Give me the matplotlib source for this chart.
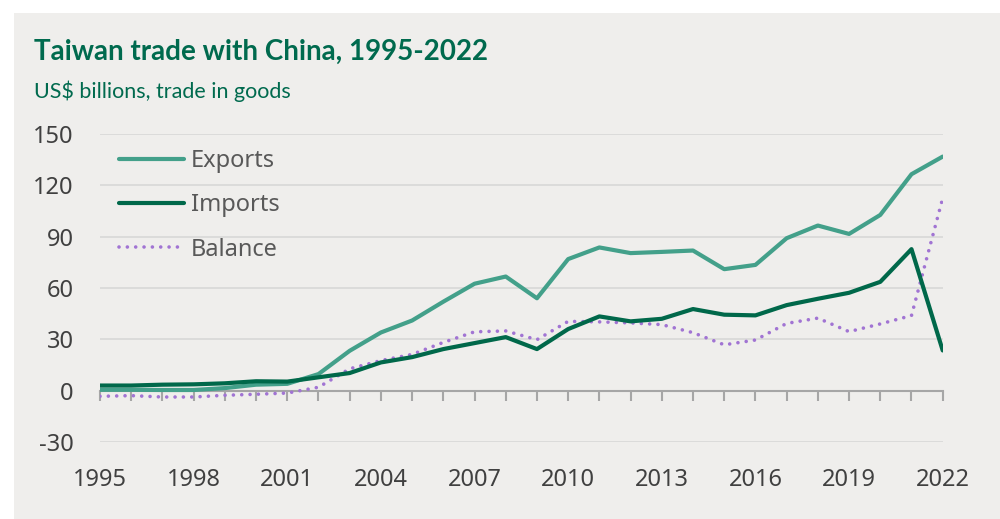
import matplotlib
matplotlib.use('Agg')
import matplotlib.pyplot as plt
from matplotlib.patches import Rectangle

# data (US$ billions)
years = list(range(1995, 2023))
exports = [0.5, 0.5, 0.4, 0.4, 1.5, 3.5, 4.0, 9.7, 23.3, 34.0, 41.0, 52.0, 62.5, 66.7,
           54.0, 76.9, 83.7, 80.4, 81.1, 81.9, 71.0, 73.5, 89.1, 96.5, 91.6, 102.7, 126.5, 136.8]
imports = [3.0, 3.0, 3.5, 3.7, 4.3, 5.5, 5.3, 7.8, 10.3, 16.5, 19.6, 24.3, 27.8, 31.3,
           24.3, 36.0, 43.4, 40.5, 42.0, 47.7, 44.4, 44.0, 50.0, 53.7, 57.2, 63.6, 82.7, 23.5]
balance = [-3.3, -2.9, -3.7, -3.7, -2.7, -2.1, -1.4, 2.0, 12.8, 17.6, 21.2, 28.2, 34.4, 34.9,
           29.8, 40.5, 40.2, 39.6, 38.6, 33.9, 26.8, 29.6, 39.3, 42.4, 34.5, 39.0, 43.9, 112.5]
ytick_vals = [-30, 0, 30, 60, 90, 120, 150]
xtick_years = list(range(1995, 2023, 3))

plt.rcParams['font.family'] = ['Noto Sans', 'DejaVu Sans']

bg = '#efeeec'
green_title = '#006a4e'
c_exp = '#43a08a'
c_imp = '#00684a'
c_bal = '#a174d3'
txt = '#404040'

fig = plt.figure(figsize=(10, 5.19), dpi=100)
fig.patch.set_facecolor('white')
fig.patches.append(Rectangle((0.014, 0), 1.0, 1 - 13 / 519, transform=fig.transFigure,
                             facecolor=bg, edgecolor='none', zorder=-10))

ax = fig.add_axes([0.1, 1 - 442 / 519, 0.8427, (442 - 134) / 519])
ax.patch.set_alpha(0)

for v in ytick_vals:
    if v != 0:
        ax.axhline(v, color='#d9d9d9', lw=1.3, zorder=1)

ax.plot(years, exports, color=c_exp, lw=3, label='Exports', zorder=3, solid_capstyle='round')
ax.plot(years, imports, color=c_imp, lw=3, label='Imports', zorder=4, solid_capstyle='round')
ax.plot(years, balance, color=c_bal, lw=2.6, ls=(0, (0.01, 2.3)), dash_capstyle='round',
        label='Balance', zorder=2)

ax.set_xlim(1995, 2022)
ax.set_ylim(-30, 150)
for s in ax.spines.values():
    s.set_visible(False)

ax.set_yticks(ytick_vals)
ax.set_yticklabels([str(v) for v in ytick_vals], fontsize=17, color=txt)
ax.tick_params(axis='y', length=0, pad=19)
ax.set_xticks(xtick_years)
ax.set_xticklabels([str(y) for y in xtick_years], fontsize=17, color=txt)
ax.tick_params(axis='x', length=0, pad=19)

# zero line with yearly tick marks
zax = ax.secondary_xaxis(30 / 180)
zax.set_xticks(years)
zax.set_xticklabels([])
zax.spines['bottom'].set_color('#a6a6a6')
zax.spines['bottom'].set_linewidth(1.5)
zax.tick_params(axis='x', direction='out', length=7, width=1.5, color='#a6a6a6')

leg = ax.legend(loc='upper left', bbox_to_anchor=(0.0225, 0.952), frameon=False,
                prop={'size': 17}, handlelength=2.75, borderpad=0,
                handletextpad=0.3, labelspacing=0.865, borderaxespad=0)
for t in leg.get_texts():
    t.set_color('#595959')

fig.text(0.034, 1 - 60 / 519, 'Taiwan trade with China, 1995-2022', family='Lato',
         fontweight='bold', fontsize=20, color=green_title, va='baseline')
fig.text(0.034, 1 - 97.5 / 519, 'US$ billions, trade in goods', family='Lato',
         fontsize=15.5, color=green_title, va='baseline')

fig.savefig('out.png', dpi=100, facecolor=fig.get_facecolor())
